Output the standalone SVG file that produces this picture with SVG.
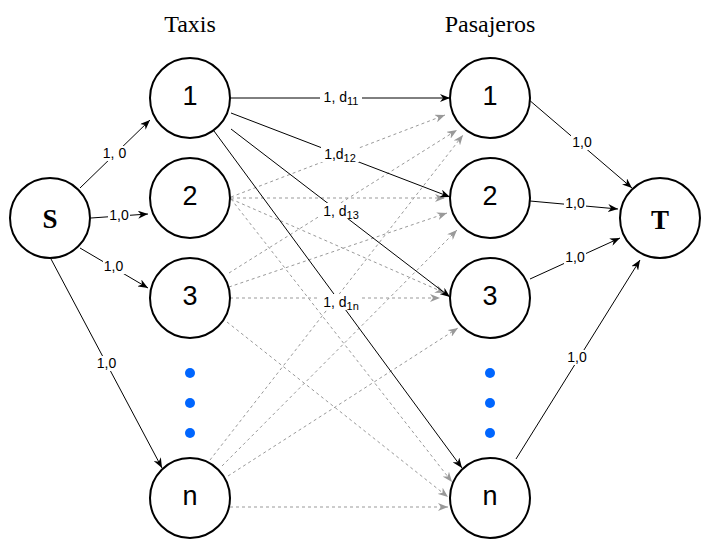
<svg xmlns="http://www.w3.org/2000/svg" width="711" height="552" viewBox="0 0 711 552">
<defs>
<style>
.node circle{fill:#fff;stroke:#000;stroke-width:2}
.num{font-family:"Liberation Sans",Arial,sans-serif;font-size:27px;text-anchor:middle;fill:#000}
.big{font-family:"Liberation Serif","Times New Roman",serif;font-size:27px;font-weight:bold;text-anchor:middle;fill:#000}
.title{font-family:"Liberation Serif","Times New Roman",serif;font-size:24px;text-anchor:middle;fill:#000}
.e{stroke:#000;stroke-width:1;fill:none;marker-end:url(#ab)}
.g{stroke:#999;stroke-width:1;fill:none;stroke-dasharray:3 3;marker-end:url(#ag)}
.lbl{font-family:"Liberation Sans",Arial,sans-serif;font-size:14px;text-anchor:middle;fill:#000}
.bg{fill:#fff}
.dot{fill:#0066ff}
</style>
<marker id="ab" markerWidth="10" markerHeight="8" refX="10" refY="4" orient="auto" markerUnits="userSpaceOnUse"><path d="M0,0 L10,4 L0,8 L3,4 z" fill="#000"/></marker>
<marker id="ag" markerWidth="10" markerHeight="8" refX="10" refY="4" orient="auto" markerUnits="userSpaceOnUse"><path d="M0,0 L10,4 L0,8 L3,4 z" fill="#999"/></marker>
</defs>
<rect width="711" height="552" fill="#fff"/>
<text class="title" x="190" y="32">Taxis</text>
<text class="title" x="490" y="32">Pasajeros</text>
<g id="connectors">
<g id="dashed">
<line class="g" x1="231" y1="197" x2="445" y2="115"/>
<line class="g" x1="231" y1="198" x2="445" y2="198"/>
<line class="g" x1="231" y1="199" x2="445" y2="293"/>
<line class="g" x1="231" y1="199" x2="452" y2="482"/>
<line class="g" x1="229" y1="273" x2="457" y2="130"/>
<line class="g" x1="229" y1="287" x2="447" y2="213"/>
<line class="g" x1="230" y1="298" x2="440" y2="298"/>
<line class="g" x1="227" y1="322" x2="448" y2="497"/>
<line class="g" x1="210" y1="460" x2="463" y2="135"/>
<line class="g" x1="222" y1="466" x2="457" y2="230"/>
<line class="g" x1="228" y1="476" x2="458" y2="328"/>
<line class="g" x1="230" y1="507" x2="448" y2="507"/>
</g>
<g id="solid">
<line class="e" x1="80" y1="188" x2="150" y2="120"/>
<line class="e" x1="91" y1="218" x2="148" y2="214"/>
<line class="e" x1="80" y1="248" x2="148" y2="288"/>
<line class="e" x1="51" y1="259" x2="162" y2="468"/>
<line class="e" x1="230" y1="98" x2="450" y2="98"/>
<line class="e" x1="231" y1="113" x2="450" y2="197"/>
<line class="e" x1="231" y1="129" x2="450" y2="297"/>
<line class="e" x1="214" y1="131" x2="462" y2="468"/>
<line class="e" x1="528" y1="99" x2="632" y2="188"/>
<line class="e" x1="530" y1="201" x2="618" y2="209"/>
<line class="e" x1="530" y1="279" x2="620" y2="238"/>
<line class="e" x1="516" y1="459" x2="640" y2="260"/>
</g>
<g id="labels">
<rect class="bg" x="320" y="89" width="42" height="16"/>
<text class="lbl" x="341" y="102">1, d<tspan font-size="11" dy="3">11</tspan></text>
<rect class="bg" x="321" y="146" width="38" height="16"/>
<text class="lbl" x="340" y="159">1,d<tspan font-size="11" dy="3">12</tspan></text>
<rect class="bg" x="320" y="203" width="42" height="16"/>
<text class="lbl" x="341" y="216">1, d<tspan font-size="11" dy="3">13</tspan></text>
<rect class="bg" x="320" y="294" width="42" height="16"/>
<text class="lbl" x="341" y="307">1, d<tspan font-size="11" dy="3">1n</tspan></text>
<rect class="bg" x="101" y="146" width="27" height="15"/>
<text class="lbl" x="114.5" y="158">1, 0</text>
<rect class="bg" x="108" y="208" width="22" height="15"/>
<text class="lbl" x="119" y="220">1,0</text>
<rect class="bg" x="103" y="259" width="22" height="15"/>
<text class="lbl" x="113.5" y="271">1,0</text>
<rect class="bg" x="96" y="356" width="22" height="15"/>
<text class="lbl" x="106.5" y="368">1,0</text>
<rect class="bg" x="571" y="135" width="22" height="15"/>
<text class="lbl" x="582" y="147">1,0</text>
<rect class="bg" x="564" y="196" width="22" height="15"/>
<text class="lbl" x="575" y="208">1,0</text>
<rect class="bg" x="564" y="250" width="22" height="15"/>
<text class="lbl" x="575" y="262">1,0</text>
<rect class="bg" x="566" y="350" width="22" height="15"/>
<text class="lbl" x="577" y="362">1,0</text>
</g>
</g>
<g id="S" class="node"><circle cx="50" cy="218" r="40"/><text class="big" x="50" y="228">S</text></g>
<g id="T" class="node"><circle cx="660" cy="218" r="40"/><text class="big" x="660" y="229">T</text></g>
<g id="taxi1" class="node"><circle cx="190" cy="98" r="40"/><text class="num" x="190" y="105">1</text></g>
<g id="taxi2" class="node"><circle cx="190" cy="198" r="40"/><text class="num" x="190" y="205">2</text></g>
<g id="taxi3" class="node"><circle cx="190" cy="298" r="40"/><text class="num" x="190" y="305">3</text></g>
<g id="taxin" class="node"><circle cx="190" cy="498" r="40"/><text class="num" x="190" y="505">n</text></g>
<g id="pas1" class="node"><circle cx="490" cy="98" r="40"/><text class="num" x="490" y="105">1</text></g>
<g id="pas2" class="node"><circle cx="490" cy="198" r="40"/><text class="num" x="490" y="205">2</text></g>
<g id="pas3" class="node"><circle cx="490" cy="298" r="40"/><text class="num" x="490" y="305">3</text></g>
<g id="pasn" class="node"><circle cx="490" cy="498" r="40"/><text class="num" x="490" y="505">n</text></g>
<g id="dots-taxis"><circle class="dot" cx="190" cy="373" r="5"/><circle class="dot" cx="190" cy="403" r="5"/><circle class="dot" cx="190" cy="433" r="5"/></g>
<g id="dots-pasajeros"><circle class="dot" cx="490" cy="373" r="5"/><circle class="dot" cx="490" cy="403" r="5"/><circle class="dot" cx="490" cy="433" r="5"/></g>
</svg>
